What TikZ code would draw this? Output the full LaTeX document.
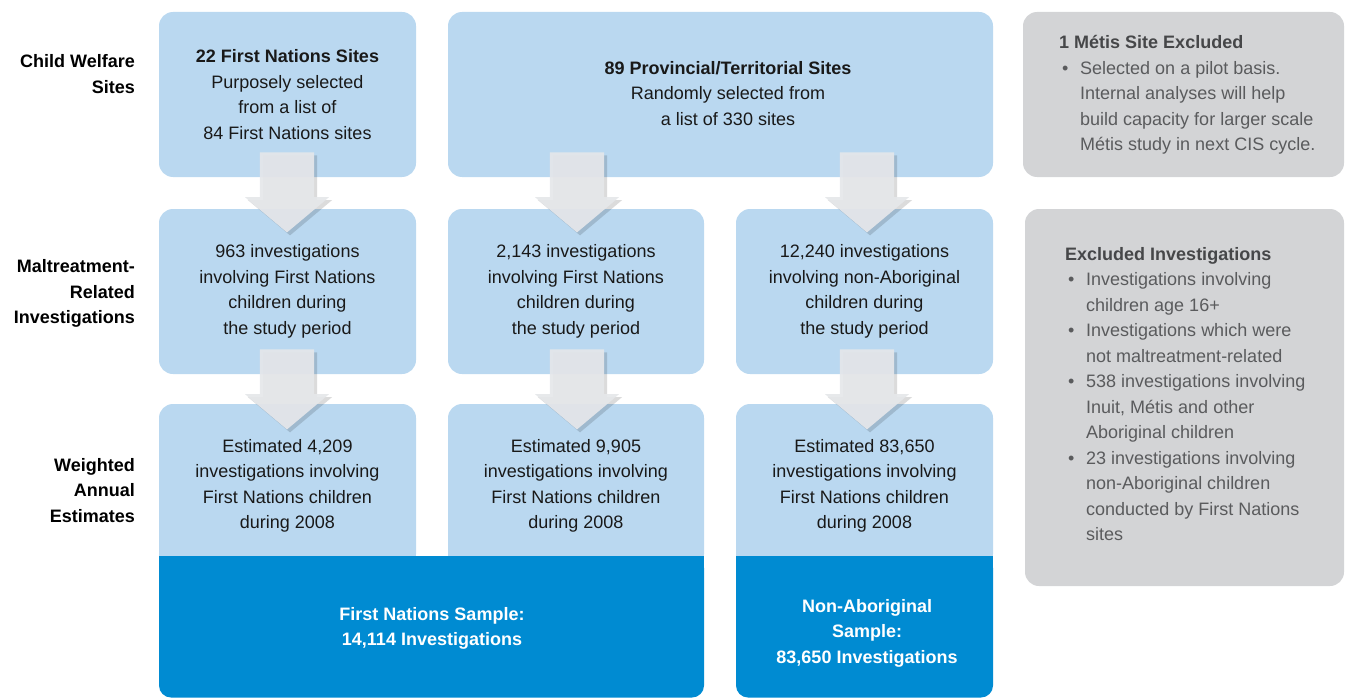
\documentclass[tikz,border=0pt]{standalone}
\usepackage{fontspec}
\setmainfont{Liberation Sans}
\usetikzlibrary{shapes.arrows,shadows}
\definecolor{lb}{RGB}{186,216,240}
\definecolor{db}{RGB}{0,139,210}
\definecolor{gb}{RGB}{211,212,214}
\definecolor{gt}{RGB}{90,91,93}
\definecolor{gtt}{RGB}{70,71,73}
\definecolor{ag}{RGB}{229,231,234}
\definecolor{tx}{RGB}{25,25,25}
\newcommand\bul{\makebox[21pt][l]{\hspace{3pt}\textbullet}}
\newcommand\ind{\makebox[21pt]{}}
\begin{document}
\begin{tikzpicture}[x=1pt,y=-1pt,
  txt/.style={font=\fontsize{18}{25.5}\selectfont, align=center, inner sep=0pt, text=tx},
  lbox/.style={txt, fill=lb, rounded corners=14pt, minimum width=#1},
  dbox/.style={txt, fill=db, rounded corners=12pt, minimum width=#1, text=white, font=\fontsize{18}{25.5}\selectfont\bfseries},
  gbox/.style={fill=gb, rounded corners=14pt, inner sep=0pt},
  gtext/.style={font=\fontsize{18}{25.5}\selectfont, align=left, inner sep=0pt, text=gt},
  side/.style={font=\fontsize{18}{25.5}\selectfont\bfseries, align=right, inner sep=0pt, text=black},
  barrow/.style={single arrow, fill=ag, fill opacity=0.93, draw=none, rotate=-90,
    minimum height=80pt, inner xsep=0pt, inner ysep=27pt, single arrow head extend=15pt,
    single arrow tip angle=100,
    drop shadow={shadow xshift=3pt, shadow yshift=-3pt, opacity=0.14, fill=black}}
]
\useasboundingbox (0,0) rectangle (1346,698);
\clip (0,0) rectangle (1346,698);

% left labels
\node[side, anchor=east] (l1) at (135,74) {Child Welfare\\Sites};
\node[side, anchor=east] (l2) at (135,293.5) {Maltreatment-\\Related\\Investigations};
\node[side, anchor=east] (l3) at (135,490.5) {Weighted\\Annual\\Estimates};

% row 1
\node[lbox=257pt, minimum height=165pt] (s1) at (287.5,94.5)
  {\textbf{22 First Nations Sites}\\Purposely selected\\from a list of\\84 First Nations sites};
\node[lbox=545pt, minimum height=165pt] (s2) at (720.5,94.5) {};
\node[txt] (s2t) at (728,93.5)
  {\textbf{89 Provincial/Territorial Sites}\\Randomly selected from\\a list of 330 sites};

% row 2
\node[lbox=257pt, minimum height=165pt] (m1) at (287.5,291.5)
  {963 investigations\\involving First Nations\\children during\\the study period};
\node[lbox=256pt, minimum height=165pt] (m2) at (576,291.5)
  {2,143 investigations\\involving First Nations\\children during\\the study period};
\node[lbox=257pt, minimum height=165pt] (m3) at (864.5,291.5)
  {12,240 investigations\\involving non-Aboriginal\\children during\\the study period};

% row 3
\node[lbox=257pt, minimum height=164pt] (w1) at (287.5,486)
  {Estimated 4,209\\investigations involving\\First Nations children\\during 2008};
\node[lbox=256pt, minimum height=164pt] (w2) at (576,486)
  {Estimated 9,905\\investigations involving\\First Nations children\\during 2008};
\node[lbox=257pt, minimum height=164pt] (w3) at (864.5,486)
  {Estimated 83,650\\investigations involving\\First Nations children\\during 2008};

% samples
\node[dbox=545pt, minimum height=141.5pt] (f1) at (431.5,626.75) {};
\fill[db] (f1.north west) rectangle ([yshift=-20pt]f1.north east);
\node[txt, text=white, font=\fontsize{18}{25.5}\selectfont\bfseries] (f1t) at (432,628.5)
  {First Nations Sample:\\14,114 Investigations};
\node[dbox=257pt, minimum height=141.5pt] (f2) at (864.5,626.75) {};
\fill[db] (f2.north west) rectangle ([yshift=-20pt]f2.north east);
\node[txt, text=white, font=\fontsize{18}{25.5}\selectfont\bfseries] (f2t) at (867,633)
  {Non-Aboriginal\\Sample:\\83,650 Investigations};

% gray boxes
\node[gbox, minimum width=321pt, minimum height=165pt] (g1) at (1183.5,94.5) {};
\node[gtext, anchor=west] (g1t) at (1059,95)
  {\textcolor{gtt}{\bfseries 1 Métis Site Excluded}\\
   \bul Selected on a pilot basis.\\
   \ind Internal analyses will help\\
   \ind build capacity for larger scale\\
   \ind Métis study in next CIS cycle.};
\node[gbox, minimum width=319pt, minimum height=377pt] (g2) at (1184.5,397.5) {};
\node[gtext, anchor=west] (g2t) at (1065,394)
  {\textcolor{gtt}{\bfseries Excluded Investigations}\\
   \bul Investigations involving\\
   \ind children age 16+\\
   \bul Investigations which were\\
   \ind not maltreatment-related\\
   \bul 538 investigations involving\\
   \ind Inuit, Métis and other\\
   \ind Aboriginal children\\
   \bul 23 investigations involving\\
   \ind non-Aboriginal children\\
   \ind conducted by First Nations\\
   \ind sites};

% arrows
\node[barrow] (a1) at (287,181) {};
\node[barrow] (a2) at (577,181) {};
\node[barrow] (a3) at (867,181) {};
\node[barrow] (a4) at (287,378) {};
\node[barrow] (a5) at (577,378) {};
\node[barrow] (a6) at (867,378) {};
\end{tikzpicture}
\end{document}
